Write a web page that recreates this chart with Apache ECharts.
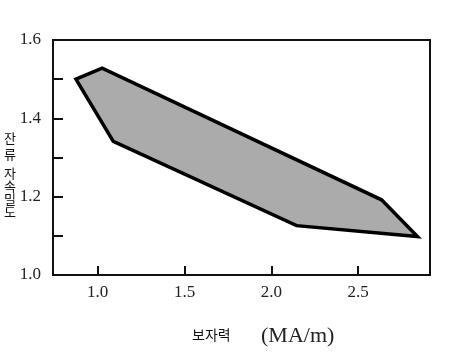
<!DOCTYPE html>
<html>
<head>
<meta charset="utf-8">
<script src="https://cdn.jsdelivr.net/npm/echarts@6/dist/echarts.min.js"></script>
<style>html,body{margin:0;padding:0;background:#fff;}#c{width:450px;height:359px;}</style>
</head>
<body>
<div id="c"></div>
<script>
// Polygon vertices (coercivity MA/m, residual flux density)
var regionX = [0.875, 1.026, 2.634, 2.841, 2.145, 1.09];
var regionY = [1.500, 1.528, 1.192, 1.098, 1.126, 1.341];
var xTickValues = [1.0, 1.5, 2.0, 2.5];
var yTickValues = [1.0, 1.1, 1.2, 1.3, 1.4, 1.5, 1.6];
var yLabelValues = [1.0, 1.2, 1.4, 1.6];
var xAxisName = '보자력';
var xAxisUnit = '(MA/m)';
var yAxisNameTop = '잔\n류';
var yAxisNameBottom = '자\n속\n밀\n도';

var chart = echarts.init(document.getElementById('c'), null, {renderer: 'canvas'});
var data = regionX.map(function (x, i) { return [x, regionY[i]]; });
var serif = '"Liberation Serif", "DejaVu Serif", serif';
var kr = '"Noto Sans CJK KR", sans-serif';
chart.setOption({
  animation: false,
  backgroundColor: '#fff',
  grid: {left: 53, top: 40, right: 20, bottom: 84, show: true, borderColor: '#111', borderWidth: 2, backgroundColor: 'transparent'},
  xAxis: {
    type: 'value', min: 0.743, max: 2.913,
    splitLine: {show: false},
    axisLine: {show: true, onZero: false, lineStyle: {color: '#111', width: 2}},
    axisTick: {show: true, inside: true, length: 9, lineStyle: {color: '#111', width: 2}, customValues: xTickValues},
    axisLabel: {customValues: xTickValues, color: '#222', fontFamily: serif, fontSize: 17, margin: 9,
      formatter: function (v) { return v.toFixed(1); }}
  },
  yAxis: {
    type: 'value', min: 1.0, max: 1.6,
    splitLine: {show: false},
    axisLine: {show: true, lineStyle: {color: '#111', width: 2}},
    axisTick: {show: true, inside: true, length: 10, lineStyle: {color: '#111', width: 2}, customValues: yTickValues},
    axisLabel: {customValues: yLabelValues, color: '#222', fontFamily: serif, fontSize: 17, margin: 12,
      padding: [0, 0, 4, 0],
      formatter: function (v) { return v.toFixed(1); }}
  },
  graphic: [
    {type: 'text', left: 4, top: 130, style: {text: yAxisNameTop, fontSize: 13, lineHeight: 16, fill: '#111', fontFamily: kr}},
    {type: 'text', left: 4, top: 167, style: {text: yAxisNameBottom, fontSize: 13, lineHeight: 13, fill: '#111', fontFamily: kr}},
    {type: 'text', left: 192, top: 328, style: {text: xAxisName, fontSize: 14, fill: '#111', fontFamily: kr}},
    {type: 'text', left: 261, top: 325, style: {text: xAxisUnit, fontSize: 22, fill: '#222', fontFamily: serif}}
  ],
  series: [{
    type: 'custom',
    coordinateSystem: 'cartesian2d',
    encode: {x: 0, y: 1},
    data: data,
    renderItem: function (params, api) {
      if (params.dataIndex !== 0) return null;
      var pts = data.map(function (d) { return api.coord(d); });
      return {
        type: 'polygon',
        shape: {points: pts},
        style: {fill: '#ababab', stroke: '#000', lineWidth: 3.5, lineJoin: 'miter'}
      };
    }
  }]
});
</script>
</body>
</html>
